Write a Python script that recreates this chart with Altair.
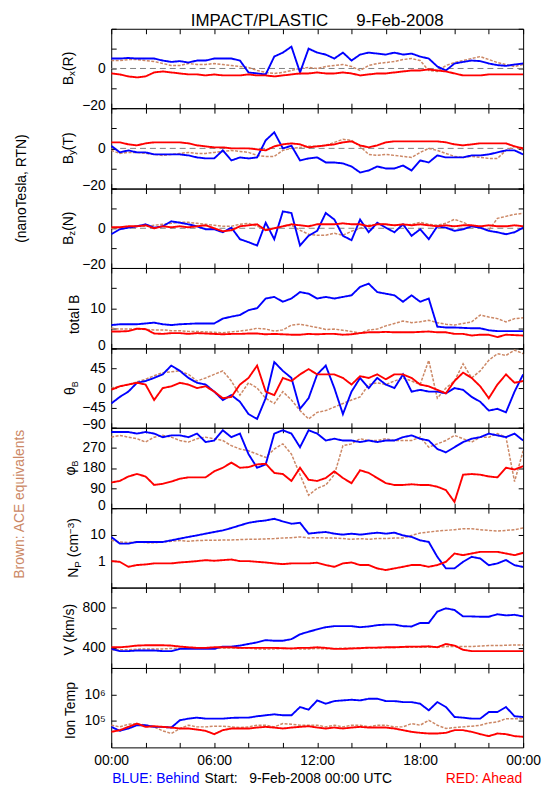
import altair as alt
import pandas as pd

# ---------------- data (half-hour readings, 00:00 .. 24:00) ----------------
hours = [i * 0.5 for i in range(49)]

bx_blue = [5,5,5.3,5,5,5,4,3.3,3.7,3,4,4,5,5,5,4,-2,-2.5,-3,6,8,11,-2,10,8,7,5,8,4,7,8,7.5,7,8,7,7.5,6,5,1,-1,2.5,3.3,4,3.7,2.5,1.7,1.3,2,2.5]
bx_red = [-2.5,-3,-4,-4.5,-4,-2,-1.5,-2,-2.5,-3,-3,-3.5,-3,-3.5,-3.5,-3.5,-3,-3.5,-3.5,-4,-3.5,-3,-2.5,-2.5,-2,-2.5,-2.5,-2,-2.5,-3.5,-3,-2.5,-2.5,-2,-1.5,-1,-1,-0.5,-1,-1.5,-2.5,-3.5,-3.5,-3.5,-3,-3,-3,-3,-3]
bx_brown = [4,4,4.5,4.5,4,3.5,2.5,1.5,1.5,2.5,2,2,2.5,2,1.5,1,0.5,-1,-2,-2.5,-2,-1,0,0.5,0,1,1.5,2,1,-1,1.5,2.5,3,3.5,4.5,5,4,-1,-1.5,1.5,3,4,5,6,4.5,3,2,1,2]

by_blue = [1.3,-2,-1,-2,-2,-3,-3,-3,-3,-3.5,-4.5,-5,-5,-1,-6,-4.5,-5,-4.5,4,8,0,1.3,-6,-5,-4.5,-7,-7,-7.5,-9,-12,-11,-9,-10,-10,-8.5,-11,-6,-7,-3.5,-4.5,-4.5,-4.5,-3.5,-3.5,-3,-2,-1,-1,-3]
by_red = [3,3,2,1.5,2.5,3,3,3,3,2.5,1.5,1,0.5,0.5,0,0,0,-0.5,-1,1,2,2.5,2,0.5,1,1.5,2,3,3.5,1.5,0.5,1.5,3,3.5,3.5,3.5,3.5,3.5,3.5,3,2,1.5,2,2.5,2.5,2.5,2.5,1,0]
by_brown = [-1,-2.5,-2,-2,-2.5,-3,-3.5,-3,-2.5,-2,-2.5,-2.5,-2,-1.5,-1,-1.5,-2,-3.5,-4,-4,-1,0,0.5,1,1,1.5,3,4.5,4,1,-3,-3.5,-3,-3.5,-4,-4.5,-2,0,-1,-2.5,-4,-4.5,-4,-4.5,-5,-5,-1,1,-1]

bz_blue = [-3,-0.5,0.3,1,2,0.3,1,3.5,2.8,2,1,-0.5,-0.5,-2,0.3,-5.5,-7,-8.7,2.8,-5.5,8.5,7.7,-8.7,-3.8,-1.3,7.7,4.4,-3.8,-6,4.4,-2,2.8,0.3,-2,2,-3.8,-0.5,-5.5,1,0.3,-1.3,-0.5,1,0.3,-1.3,-2,-3,-2,0.3]
bz_red = [0.5,0.5,1,1,1.5,0,1,0.5,1,0.5,1,1.5,0,-1.5,-1,1,1.5,2,-1,0,1,2,1.5,1,2,2,2,2.5,2,2,1,2,2,1.5,2,1.5,2,1.5,1,1.5,1,1.5,1.5,1,1.5,1,1,1.5,1]
bz_brown = [0,0.5,0.5,1,1,1.5,2,2.5,3,3,2.5,2,1.5,1,1,2,2.5,1,-0.5,0,1,1.5,-1,-3,-3.5,-3.5,-2.5,-3.5,-1.5,0,1.5,2,2,1.5,1.5,2,3,2,1.5,2.5,4.5,3,1,0.5,-1,5,6,7,7.5]

bt_blue = [5.8,6,6,6,6.2,6.4,6,5.8,6,6.1,6.2,6.2,6.2,7.4,7.9,8.3,9.5,10,12.4,12.8,11.6,12.4,14,13.6,12.4,12.8,12.4,12.8,13.2,15.3,16.1,14,13.6,13.2,11.6,13.2,11.6,12.4,5.4,5.2,5.2,5.1,5,5,4.5,4.3,4.3,4.3,4.3]
bt_red = [4.2,4.2,4.3,4.9,4.8,3.7,3.6,3.8,3.8,3.6,3.8,3.7,3.6,3.5,3.6,3.6,3.7,3.7,3.5,3.6,3.5,3.4,3.4,3.6,3.5,3.6,3.6,3.4,3.5,3.8,4,4,4.1,4,4,4,4.1,4.2,4,4,3.6,3.6,3.2,3.4,3.4,2.8,3.4,3.3,3.2]
bt_brown = [5,4.8,4.8,4.8,4.7,4.6,4.6,4.4,4.4,4.2,4.2,4.1,4,3.9,4.1,4.3,4.6,5,4.8,4.3,4.6,5.8,6,5.6,5.2,4.7,4.8,4.5,4.2,3.8,4.6,4.8,5.6,6.2,6.8,6.4,6.6,7,6.4,6,5.8,6.2,6.6,8.3,7.8,7.4,6.6,7.4,7.6]

th_blue = [-35,-20,-8,12,16,23,31,51,39,23,12,8,-8,-27,-16,-31,-59,-70,-23,59,39,23,-47,-23,31,51,0,-59,-8,23,0,23,8,0,31,-8,-4,-8,-8,-12,0,-4,-20,-31,-51,-47,-55,-8,31]
th_red = [-4,4,8,12,8,-27,0,4,12,8,0,4,-8,-23,-20,8,23,51,-8,-16,23,16,31,43,31,31,31,23,8,27,23,31,20,31,31,23,8,4,-4,-12,16,35,23,4,-23,8,31,12,16]
th_brown = [0,4,8,14,20,28,35,37,39,31,16,23,31,39,16,-16,12,0,-23,-35,-8,-27,-51,-70,-55,-51,-43,-35,-27,-20,8,12,8,16,23,16,8,63,-23,0,16,55,23,39,63,78,74,86,78]

ph_blue = [341,341,341,334,341,334,318,326,326,318,334,296,303,349,318,334,242,181,196,334,349,334,273,349,334,303,311,303,303,296,303,296,303,303,318,326,311,303,265,250,273,296,311,318,334,326,318,334,303]
ph_red = [115,122,142,153,142,104,109,119,132,138,138,138,165,181,204,181,184,196,199,158,153,122,181,127,122,135,165,135,112,170,158,135,112,104,104,107,104,104,96,81,28,150,153,150,142,138,181,173,188]
ph_brown = [318,326,318,311,296,318,326,318,303,296,311,318,311,303,280,265,257,242,227,265,288,242,150,58,89,104,150,280,288,311,303,303,311,303,303,303,318,273,288,303,326,311,296,318,318,334,318,119,257]

np_blue = [8.2,4.6,4.6,5.3,5.3,5.3,5.3,6.1,7.1,8.2,9.4,10.9,12.6,14.5,17.8,22.4,28,31.6,34.4,39.8,31.6,25.8,28,10.9,11.9,12.6,10.9,10,10.9,10,10.9,11.9,10.9,11.9,9.4,8.2,6.1,5.3,1.45,0.53,0.53,0.94,1.45,1.26,0.7,0.82,1.1,0.7,0.6]
np_red = [1.0,0.94,0.61,0.71,0.75,0.82,0.82,0.82,0.89,0.94,1.0,1.09,1.03,1.09,1.15,1.0,1.0,0.94,0.89,0.82,0.77,0.82,0.82,0.82,0.87,0.71,0.61,0.82,0.89,0.71,0.71,0.53,0.46,0.53,0.61,0.71,0.71,0.61,0.71,0.94,1.94,1.68,1.94,2.24,2.24,2.24,1.94,1.68,2.05]
np_brown = [6.1,5.3,5,5.3,5,4.9,5.3,5.6,6,5.6,6,6.1,6.1,6.3,6.3,6.5,6.7,6.7,6.9,7.1,7.5,7.7,8.2,7.5,7.7,7.5,7.5,7.1,6.7,7.1,6.7,7.1,7.1,7.5,7.5,9.4,11.5,12.6,13.7,14.5,15.4,16.8,16.8,15.4,14.5,13.7,14.5,15.4,17.8]

v_blue = [390,368,368,374,374,374,368,368,390,390,390,390,390,413,413,423,439,455,477,471,471,487,535,561,584,606,616,616,616,606,613,626,632,632,616,613,648,648,761,794,777,713,713,710,710,735,723,729,713]
v_red = [406,406,413,423,426,426,426,423,413,406,400,400,406,406,406,400,400,400,400,400,397,394,400,400,406,400,390,390,394,397,403,403,406,406,410,413,413,416,406,439,423,381,368,368,368,368,368,368,368]
v_brown = [381,381,381,387,390,390,390,394,397,397,397,400,400,400,400,397,397,390,387,390,394,394,390,390,394,390,394,397,397,400,400,400,403,403,406,406,406,406,406,413,413,413,413,419,423,423,426,429,429]

t_blue = [59600,42200,51600,68800,68800,59600,59600,56200,106000,122000,133000,122000,122000,122000,130000,133000,133000,150000,163000,178000,163000,163000,335000,266000,596000,447000,562000,596000,631000,596000,688000,688000,562000,562000,515000,515000,447000,251000,515000,335000,141000,133000,122000,122000,217000,217000,335000,150000,141000]
t_red = [38700,44700,59600,79400,59600,63100,59600,56200,51600,51600,47300,42200,31600,44700,51600,51600,51600,56200,59600,56200,51600,56200,59600,63100,56200,51600,56200,51600,56200,59600,56200,56200,56200,51600,44700,38700,35500,33500,33500,35500,44700,44700,38700,31600,26600,33500,31600,26600,25100]
t_brown = [68800,59600,75000,79400,68800,59600,42200,33500,51600,68800,59600,59600,63100,63100,59600,56200,59600,68800,68800,59600,79400,75000,68800,68800,68800,59600,68800,59600,68800,68800,59600,68800,68800,59600,59600,79400,68800,106000,68800,51600,56200,59600,63100,68800,84100,91700,122000,122000,122000]

x_ticks = [0, 2, 4, 6, 8, 10, 12, 14, 16, 18, 20, 22, 24]
x_labels = [0, 6, 12, 18, 24]

title_text = "IMPACT/PLASTIC\u00a0\u00a0\u00a0\u00a0\u00a0\u00a09-Feb-2008"
start_text = "Start:\u00a0\u00a0\u00a09-Feb-2008\u00a000:00\u00a0UTC"

# ---------------- styling ----------------
BLUE, RED, BROWN = "#0000ff", "#ff0000", "#cc8866"
FONT = "Liberation Sans"
W, TS = 415, 5
HEIGHTS = [80, 81, 80, 81, 80, 81, 80, 81, 80]

CHARW = {"B": .667, "x": .5, "y": .5, "z": .5, "(": .333, ")": .333, "R": .722,
         "T": .611, "N": .722, "P": .667, " ": .278, "c": .5, "m": .833,
         "3": .556, "\u2212": .584, "\u03b8": .556, "\u03c6": .65}


def tw(s, fs):
    return sum(CHARW.get(c, 0.556) for c in s) * fs


def ytitle(segments, xbase, h):
    total = sum(tw(t, fs) for t, fs, sh in segments)
    y = h / 2 + total / 2
    out = []
    for t, fs, sh in segments:
        lead = len(t) - len(t.lstrip(" "))
        y -= tw(" " * lead, fs)
        s = t.strip(" ")
        out.append(alt.Chart(pd.DataFrame({"s": [s]})).mark_text(
            angle=270, align="left", baseline="alphabetic", font=FONT,
            fontSize=fs, color="black").encode(
            x=alt.value(xbase + sh), y=alt.value(y), text="s:N"))
        y -= tw(s, fs)
    return out


def free_text(s, x, y, color="black", size=13, angle=0, align="center",
              baseline="middle"):
    kw = dict(align=align, baseline=baseline, font=FONT, fontSize=size, color=color)
    if angle:
        kw["angle"] = angle
    return alt.Chart(pd.DataFrame({"s": [s]})).mark_text(**kw).encode(
        x=alt.value(x), y=alt.value(y), text="s:N")


LIN_EXPR = "(datum.value < 0 ? '\u2212' : '') + format(abs(datum.value), 'd')"

panels = [
    dict(s=(bx_brown, bx_blue, bx_red), type="linear", domain=[-20, 20],
         ticks=[-20, -10, 0, 10, 20], labels=[-20, 0], zero=True,
         title=[("B", 14, 0), ("x", 10, 3), ("(R)", 14, 0)], tx=-39),
    dict(s=(by_brown, by_blue, by_red), type="linear", domain=[-20, 20],
         ticks=[-20, -10, 0, 10, 20], labels=[-20, 0], zero=True,
         title=[("B", 14, 0), ("y", 10, 3), ("(T)", 14, 0)], tx=-39),
    dict(s=(bz_brown, bz_blue, bz_red), type="linear", domain=[-20, 20],
         ticks=[-20, -10, 0, 10, 20], labels=[-20, 0], zero=True,
         title=[("B", 14, 0), ("z", 10, 3), ("(N)", 14, 0)], tx=-39),
    dict(s=(bt_brown, bt_blue, bt_red), type="linear", domain=[0, 20],
         ticks=[0, 5, 10, 15, 20], labels=[0, 10], zero=False,
         title=[("total B", 14, 0)], tx=-32),
    dict(s=(th_brown, th_blue, th_red), type="linear", domain=[-90, 90],
         ticks=[-90, -45, 0, 45, 90], labels=[-90, -45, 0, 45], zero=False,
         title=[("\u03b8", 14, 0), ("B", 9, 3)], tx=-36),
    dict(s=(ph_brown, ph_blue, ph_red), type="linear", domain=[0, 360],
         ticks=[0, 90, 180, 270, 360], labels=[0, 90, 180, 270], zero=False,
         title=[("\u03c6", 14, 0), ("B", 9, 3)], tx=-36),
    dict(s=(np_brown, np_blue, np_red), type="log", domain=[0.1, 100],
         ticks=[1, 10], labels=[1, 10], zero=False,
         expr="format(datum.value, 'd')",
         title=[("N", 14, 0), ("P", 10, 3), (" (cm", 14, 0), ("\u22123", 10, -5), (")", 14, 0)],
         tx=-33),
    dict(s=(v_brown, v_blue, v_red), type="linear", domain=[200, 1000],
         ticks=[200, 400, 600, 800, 1000], labels=[400, 800], zero=False,
         title=[("V (km/s)", 14, 0)], tx=-38),
    dict(s=(t_brown, t_blue, t_red), type="log", domain=[1e4, 1e7],
         ticks=[1e5, 1e6], labels=[1e5, 1e6], zero=False,
         expr="datum.value < 500000 ? '10\u2075' : '10\u2076'",
         title=[("Ion Temp", 14, 0)], tx=-36),
]

charts = []
n = len(panels)
for i, p in enumerate(panels):
    first, last = i == 0, i == n - 1
    H = HEIGHTS[i]
    xs = alt.Scale(domain=[0, 24], nice=False, zero=False)
    ys = alt.Scale(type=p["type"], domain=p["domain"], nice=False, zero=False)
    axdf = pd.DataFrame({"t": [0, 24], "v": p["domain"]})

    lab_kw = dict(orient="left", values=p["labels"], ticks=False, tickSize=0,
                  labelPadding=6, domain=False, grid=False, title=None,
                  labelFlush=True, labelFlushOffset=4,
                  labelExpr=p.get("expr", LIN_EXPR))

    layA = alt.Chart(axdf).mark_point(opacity=0).encode(
        x=alt.X("t:Q", scale=xs, axis=alt.Axis(
            orient="bottom", values=x_ticks, tickSize=TS, offset=-TS,
            labels=False, domain=False, grid=False, title=None)),
        y=alt.Y("v:Q", scale=ys, axis=alt.Axis(**lab_kw)))
    layB = alt.Chart(axdf).mark_point(opacity=0).encode(
        x=alt.X("t:Q", scale=xs, axis=alt.Axis(
            orient="top", values=x_ticks, tickSize=TS, offset=-TS,
            labels=False, domain=False, grid=False, title=None)),
        y=alt.Y("v:Q", scale=ys, axis=alt.Axis(
            orient="left", values=p["ticks"], tickSize=TS, offset=-TS,
            labels=False, domain=False, grid=False, title=None)))
    if last:
        xax = alt.Axis(orient="bottom", values=x_labels, ticks=False, tickSize=0,
                       labelPadding=6, labelFlush=False, domain=False, grid=False,
                       title=None,
                       labelExpr="(datum.value % 24 < 10 ? '0' : '') + (datum.value % 24) + ':00'")
    else:
        xax = None
    layC = alt.Chart(axdf).mark_point(opacity=0).encode(
        x=alt.X("t:Q", scale=xs, axis=xax),
        y=alt.Y("v:Q", scale=ys, axis=alt.Axis(
            orient="right", values=p["ticks"], tickSize=TS, offset=-TS,
            labels=False, domain=False, grid=False, title=None)))

    layers = [layA, layB, layC]
    if p["zero"]:
        layers.append(alt.Chart(pd.DataFrame({"z": [0]})).mark_rule(
            color="#808080", strokeDash=[6, 4], strokeWidth=1).encode(
            y=alt.Y("z:Q", scale=ys, axis=None)))

    for vals, col, wdt, dash in zip(p["s"], (BROWN, BLUE, RED), (1.5, 1.9, 1.9),
                                    ([3, 1.5], [1, 0], [1, 0])):
        df = pd.DataFrame({"t": hours, "v": vals})
        layers.append(alt.Chart(df).mark_line(
            color=col, strokeWidth=wdt, strokeDash=dash, clip=True).encode(
            x=alt.X("t:Q", scale=xs, axis=None),
            y=alt.Y("v:Q", scale=ys, axis=None)))

    layers += ytitle(p["title"], p["tx"], H)

    if first:
        layers.append(free_text(title_text, W / 2, -8, size=17))
    if i == 1:
        layers.append(free_text("(nanoTesla, RTN)", -86, H, angle=270,
                                baseline="alphabetic", size=14))
    if i == 5:
        layers.append(free_text("Brown: ACE equivalents", -88, 77, color=BROWN,
                                angle=270, baseline="alphabetic", size=14))
    if last:
        layers.append(free_text("BLUE: Behind", 1, H + 32, color=BLUE, align="left", size=14))
        layers.append(free_text(start_text, 94, H + 32, align="left", size=14))
        layers.append(free_text("RED: Ahead", W - 1, H + 32, color=RED, align="right", size=14))

    ch = alt.layer(*layers).resolve_scale(x="shared", y="shared").resolve_axis(
        x="independent", y="independent").properties(width=W, height=H)
    charts.append(ch)

chart = alt.vconcat(*charts, spacing=0, bounds="flush").configure_view(
    stroke="black", strokeWidth=1).configure_axis(
    labelFont=FONT, labelFontSize=14, labelColor="black", tickColor="black",
    tickWidth=1).properties(padding={"left": 4, "top": 0, "right": 0, "bottom": 0})

chart.save("out.html", embed_options={"renderer": "svg", "actions": False})
